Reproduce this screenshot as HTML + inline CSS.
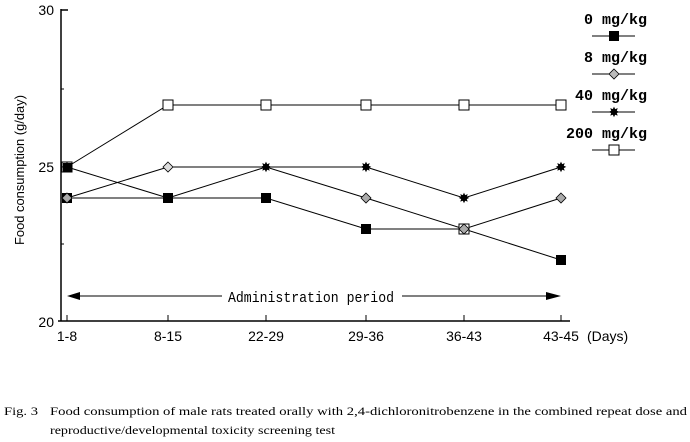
<!DOCTYPE html>
<html><head><meta charset="utf-8"><style>
html,body{margin:0;padding:0;background:#fff;}
svg{display:block;}
</style></head><body>
<svg width="690" height="442" viewBox="0 0 690 442" xmlns="http://www.w3.org/2000/svg">
<rect width="690" height="442" fill="#fff"/>
<g stroke="#000" fill="none" stroke-width="1.5">
<line x1="61" y1="9" x2="61" y2="321"/>
<line x1="58" y1="321" x2="570" y2="321"/>
<line x1="61" y1="10" x2="68" y2="10"/>
</g>
<g stroke="#000" stroke-width="1">
<line x1="61" y1="89" x2="64" y2="89"/><line x1="61" y1="167" x2="64" y2="167"/><line x1="61" y1="244" x2="64" y2="244"/>
<line x1="67" y1="315" x2="67" y2="321"/><line x1="168" y1="315" x2="168" y2="321"/><line x1="266" y1="315" x2="266" y2="321"/>
<line x1="366" y1="315" x2="366" y2="321"/><line x1="464" y1="315" x2="464" y2="321"/><line x1="561" y1="315" x2="561" y2="321"/>
</g>
<g font-family="Liberation Sans, sans-serif" font-size="14" fill="#000">
<text x="54" y="15" text-anchor="end">30</text>
<text x="54" y="172" text-anchor="end">25</text>
<text x="54" y="327" text-anchor="end">20</text>
<text x="67" y="341" text-anchor="middle">1-8</text>
<text x="168" y="341" text-anchor="middle">8-15</text>
<text x="266" y="341" text-anchor="middle">22-29</text>
<text x="366" y="341" text-anchor="middle">29-36</text>
<text x="464" y="341" text-anchor="middle">36-43</text>
<text x="561" y="341" text-anchor="middle">43-45</text>
<text x="587" y="341">(Days)</text>
<text transform="translate(24,170) rotate(-90)" text-anchor="middle" font-size="13" textLength="150" lengthAdjust="spacingAndGlyphs">Food consumption (g/day)</text>
</g>
<line x1="75" y1="296" x2="548" y2="296" stroke="#000" stroke-width="1"/>
<polygon points="67,296 80,292 80,300" fill="#000"/>
<polygon points="561,296 546,292 546,300" fill="#000"/>
<rect x="222" y="286" width="180" height="20" fill="#fff"/>
<text x="311" y="302" text-anchor="middle" font-family="Liberation Mono, monospace" font-size="15" textLength="166" lengthAdjust="spacingAndGlyphs">Administration period</text>
<g stroke="#000" stroke-width="1" fill="none">
<polyline points="67,167 168,105 266,105 366,105 464,105 561,105"/>
<polyline points="67,198 168,167 266,167 366,198 464,229 561,198"/>
<polyline points="67,167 168,198 266,198 366,229 464,229 561,260"/>
<polyline points="67,198 168,198 266,167 366,167 464,198 561,167"/>
</g>
<g>
<g fill="#fff" stroke="#000" stroke-width="1">
<rect x="163" y="100" width="10" height="10"/><rect x="261" y="100" width="10" height="10"/><rect x="361" y="100" width="10" height="10"/><rect x="459" y="100" width="10" height="10"/><rect x="556" y="100" width="10" height="10"/>
<rect x="62" y="162" width="10" height="10"/><rect x="459" y="224" width="10" height="10"/>
</g>
<g fill="#000">
<rect x="63" y="163" width="9" height="9"/><rect x="163" y="193" width="10" height="10"/><rect x="261" y="193" width="10" height="10"/><rect x="361" y="224" width="10" height="10"/><rect x="556" y="255" width="10" height="10"/>
<rect x="62" y="193" width="10" height="10"/>
</g>
<g fill="#aaa" stroke="#000" stroke-width="0.8">
<polygon points="67,193 72,198 67,203 62,198"/><polygon points="168,162 173,167 168,172 163,167" fill="#ddd"/><polygon points="366,193 371,198 366,203 361,198"/><polygon points="464,224 469,229 464,234 459,229"/><polygon points="561,193 566,198 561,203 556,198"/>
</g>
<g fill="#000" font-family="DejaVu Sans, sans-serif" font-size="14" text-anchor="middle">
<text x="266" y="172">✸</text><text x="366" y="172">✸</text><text x="464" y="203">✸</text><text x="561" y="172">✸</text><text x="67" y="172">✸</text>
</g>
</g>
<g font-family="Liberation Mono, monospace" font-size="15" font-weight="bold" fill="#000" text-anchor="end">
<text x="647" y="24">0 mg/kg</text>
<text x="647" y="62">8 mg/kg</text>
<text x="647" y="100">40 mg/kg</text>
<text x="647" y="138">200 mg/kg</text>
</g>
<g stroke="#000" stroke-width="1">
<line x1="592" y1="36" x2="635" y2="36"/><line x1="592" y1="74" x2="635" y2="74"/><line x1="592" y1="112" x2="635" y2="112"/><line x1="592" y1="150" x2="635" y2="150"/>
</g>
<rect x="609" y="31" width="10" height="10" fill="#000"/>
<polygon points="614,69 619,74 614,79 609,74" fill="#bbb" stroke="#000" stroke-width="0.8"/>
<text x="614" y="117" font-family="DejaVu Sans, sans-serif" font-size="14" text-anchor="middle">✸</text>
<rect x="609" y="145" width="10" height="10" fill="#fff" stroke="#000"/>
<g font-family="Liberation Serif, serif" font-size="12" fill="#000">
<text x="4" y="415" textLength="34" lengthAdjust="spacingAndGlyphs">Fig. 3</text>
<text x="50" y="415" textLength="637" lengthAdjust="spacingAndGlyphs">Food consumption of male rats treated orally with 2,4-dichloronitrobenzene in the combined repeat dose and</text>
<text x="50" y="434" textLength="285" lengthAdjust="spacingAndGlyphs">reproductive/developmental toxicity screening test</text>
</g>
</svg>
</body></html>
